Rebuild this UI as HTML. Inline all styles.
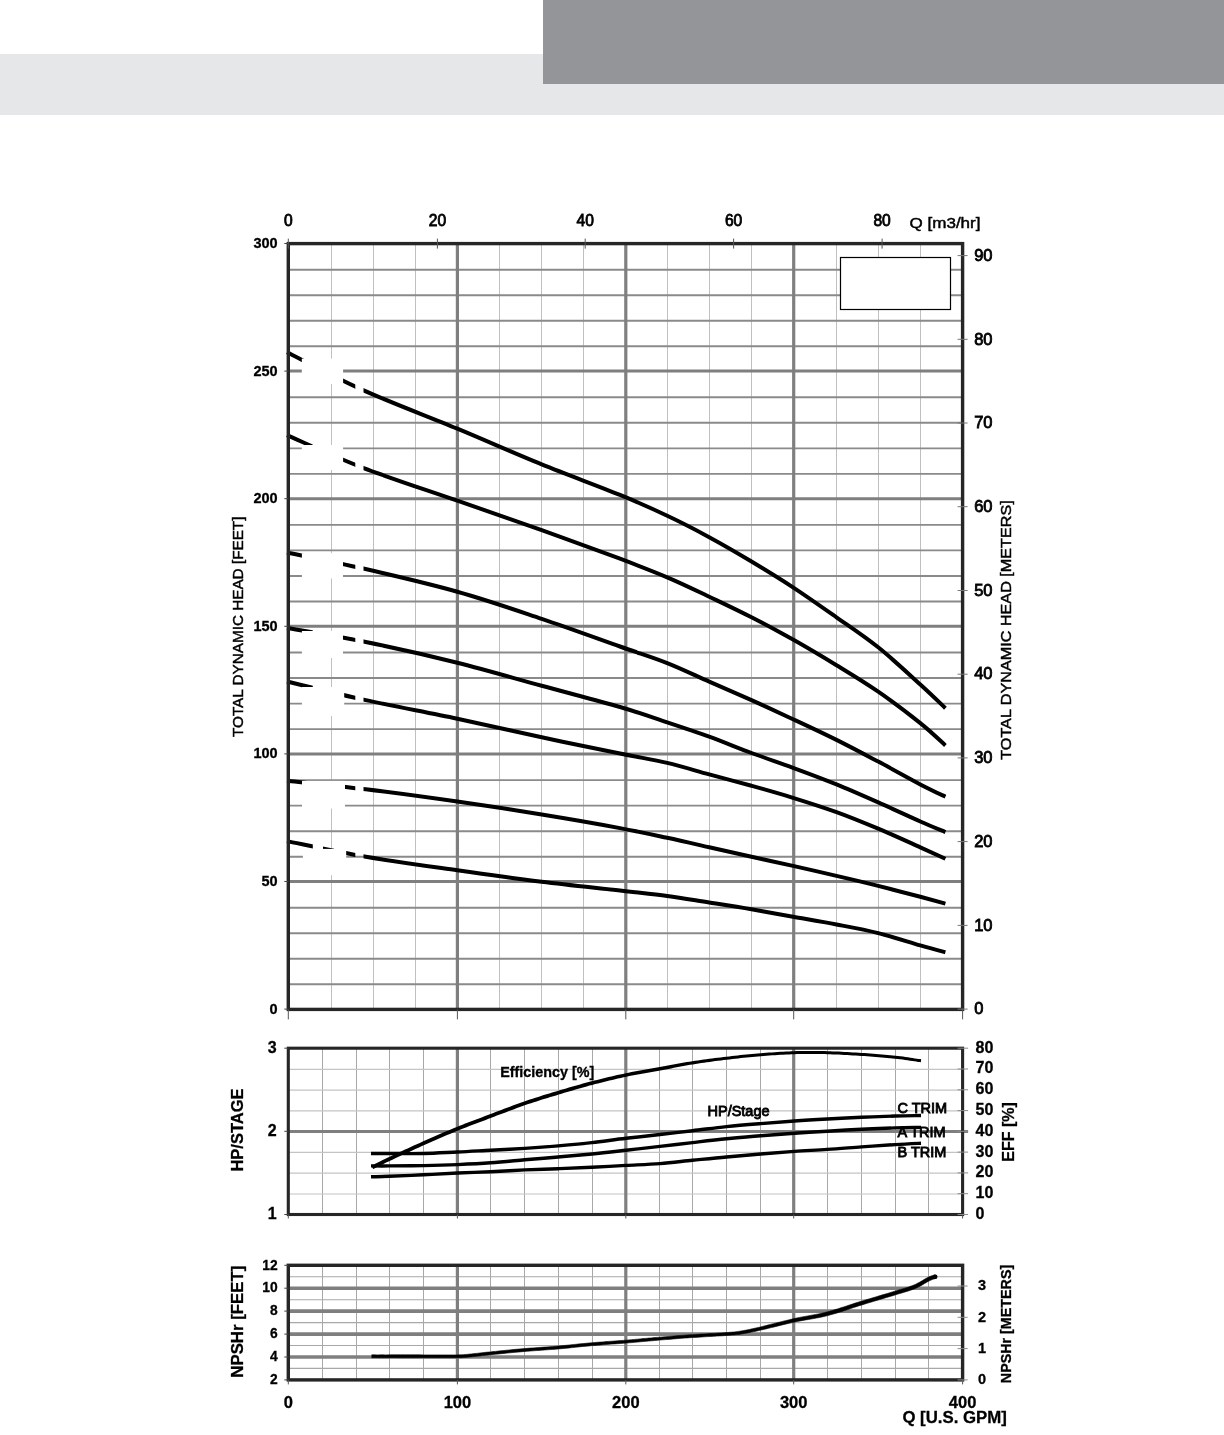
<!DOCTYPE html>
<html lang="en"><head><meta charset="utf-8"><title>Pump performance curves</title>
<style>
html,body{margin:0;padding:0;background:#fff;}
body{width:1224px;height:1435px;position:relative;overflow:hidden;font-family:"Liberation Sans",sans-serif;}
.band{position:absolute;left:0;top:54px;width:1224px;height:61px;background:#e6e7e8;}
.tab{position:absolute;left:543px;top:0;width:681px;height:84px;background:#939598;}
svg{position:absolute;left:0;top:0;will-change:transform;}
text{font-family:"Liberation Sans",sans-serif;fill:#000;}
.r14{font-size:14px;stroke:#000;stroke-width:.35px;}
.r155{font-size:15.5px;stroke:#000;stroke-width:.45px;}
.b14{stroke:#000;stroke-width:.3px;font-size:14px;font-weight:bold;}
.b15{stroke:#000;stroke-width:.3px;font-size:15.5px;font-weight:bold;}
.b16{stroke:#000;stroke-width:.3px;font-size:16px;font-weight:bold;}
.b135{stroke:#000;stroke-width:.3px;font-size:13.5px;font-weight:bold;}
.b143{stroke:#000;stroke-width:.3px;font-size:14.3px;font-weight:bold;}
.b165{stroke:#000;stroke-width:.3px;font-size:16.5px;font-weight:bold;}
.b168{stroke:#000;stroke-width:.3px;font-size:16.8px;font-weight:bold;}
.b138{stroke:#000;stroke-width:.3px;font-size:13.8px;font-weight:bold;}
.b145{stroke:#000;stroke-width:.3px;font-size:14.5px;font-weight:bold;}
.r144{font-size:14.5px;stroke:#000;stroke-width:.85px;}
.r145{font-size:14.5px;stroke:#000;stroke-width:.45px;}
.r16{font-size:15.6px;stroke:#000;stroke-width:.8px;}
.r165{font-size:16.5px;stroke:#000;stroke-width:.85px;}
</style></head><body>
<div class="band"></div><div class="tab"></div>
<svg width="1224" height="1435" viewBox="0 0 1224 1435">
<defs>
<clipPath id="cs"><rect x="280" y="240" width="32.8" height="780"/><rect x="323" y="240" width="11" height="780"/><rect x="343" y="240" width="12.3" height="780"/><rect x="363.5" y="240" width="600" height="780"/></clipPath>
</defs>
<g id="main">
<line x1="331.5" x2="331.5" y1="243.6" y2="1009.4" stroke="#c0c0c0" stroke-width="1"/>
<line x1="373.5" x2="373.5" y1="243.6" y2="1009.4" stroke="#c0c0c0" stroke-width="1"/>
<line x1="415.5" x2="415.5" y1="243.6" y2="1009.4" stroke="#c0c0c0" stroke-width="1"/>
<line x1="499.5" x2="499.5" y1="243.6" y2="1009.4" stroke="#c0c0c0" stroke-width="1"/>
<line x1="541.5" x2="541.5" y1="243.6" y2="1009.4" stroke="#c0c0c0" stroke-width="1"/>
<line x1="583.5" x2="583.5" y1="243.6" y2="1009.4" stroke="#c0c0c0" stroke-width="1"/>
<line x1="667.5" x2="667.5" y1="243.6" y2="1009.4" stroke="#c0c0c0" stroke-width="1"/>
<line x1="709.5" x2="709.5" y1="243.6" y2="1009.4" stroke="#c0c0c0" stroke-width="1"/>
<line x1="751.5" x2="751.5" y1="243.6" y2="1009.4" stroke="#c0c0c0" stroke-width="1"/>
<line x1="836.5" x2="836.5" y1="243.6" y2="1009.4" stroke="#c0c0c0" stroke-width="1"/>
<line x1="878.5" x2="878.5" y1="243.6" y2="1009.4" stroke="#c0c0c0" stroke-width="1"/>
<line x1="920.5" x2="920.5" y1="243.6" y2="1009.4" stroke="#c0c0c0" stroke-width="1"/>
<line x1="288.3" x2="962.6" y1="984.3" y2="984.3" stroke="#8a8a8a" stroke-width="1.9"/>
<line x1="288.3" x2="962.6" y1="958.8" y2="958.8" stroke="#8a8a8a" stroke-width="1.9"/>
<line x1="288.3" x2="962.6" y1="933.2" y2="933.2" stroke="#8a8a8a" stroke-width="1.9"/>
<line x1="288.3" x2="962.6" y1="907.7" y2="907.7" stroke="#8a8a8a" stroke-width="1.9"/>
<line x1="288.3" x2="962.6" y1="856.7" y2="856.7" stroke="#8a8a8a" stroke-width="1.9"/>
<line x1="288.3" x2="962.6" y1="831.2" y2="831.2" stroke="#8a8a8a" stroke-width="1.9"/>
<line x1="288.3" x2="962.6" y1="805.6" y2="805.6" stroke="#8a8a8a" stroke-width="1.9"/>
<line x1="288.3" x2="962.6" y1="780.1" y2="780.1" stroke="#8a8a8a" stroke-width="1.9"/>
<line x1="288.3" x2="962.6" y1="729.1" y2="729.1" stroke="#8a8a8a" stroke-width="1.9"/>
<line x1="288.3" x2="962.6" y1="703.6" y2="703.6" stroke="#8a8a8a" stroke-width="1.9"/>
<line x1="288.3" x2="962.6" y1="678.0" y2="678.0" stroke="#8a8a8a" stroke-width="1.9"/>
<line x1="288.3" x2="962.6" y1="652.5" y2="652.5" stroke="#8a8a8a" stroke-width="1.9"/>
<line x1="288.3" x2="962.6" y1="601.5" y2="601.5" stroke="#8a8a8a" stroke-width="1.9"/>
<line x1="288.3" x2="962.6" y1="576.0" y2="576.0" stroke="#8a8a8a" stroke-width="1.9"/>
<line x1="288.3" x2="962.6" y1="550.4" y2="550.4" stroke="#8a8a8a" stroke-width="1.9"/>
<line x1="288.3" x2="962.6" y1="524.9" y2="524.9" stroke="#8a8a8a" stroke-width="1.9"/>
<line x1="288.3" x2="962.6" y1="473.9" y2="473.9" stroke="#8a8a8a" stroke-width="1.9"/>
<line x1="288.3" x2="962.6" y1="448.4" y2="448.4" stroke="#8a8a8a" stroke-width="1.9"/>
<line x1="288.3" x2="962.6" y1="422.8" y2="422.8" stroke="#8a8a8a" stroke-width="1.9"/>
<line x1="288.3" x2="962.6" y1="397.3" y2="397.3" stroke="#8a8a8a" stroke-width="1.9"/>
<line x1="288.3" x2="962.6" y1="346.3" y2="346.3" stroke="#8a8a8a" stroke-width="1.9"/>
<line x1="288.3" x2="962.6" y1="320.8" y2="320.8" stroke="#8a8a8a" stroke-width="1.9"/>
<line x1="288.3" x2="962.6" y1="295.2" y2="295.2" stroke="#8a8a8a" stroke-width="1.9"/>
<line x1="288.3" x2="962.6" y1="269.7" y2="269.7" stroke="#8a8a8a" stroke-width="1.9"/>
<line x1="288.3" x2="962.6" y1="881.5" y2="881.5" stroke="#7f7f7f" stroke-width="3"/>
<line x1="288.3" x2="962.6" y1="753.9" y2="753.9" stroke="#7f7f7f" stroke-width="3"/>
<line x1="288.3" x2="962.6" y1="626.3" y2="626.3" stroke="#7f7f7f" stroke-width="3"/>
<line x1="288.3" x2="962.6" y1="498.7" y2="498.7" stroke="#7f7f7f" stroke-width="3"/>
<line x1="288.3" x2="962.6" y1="371.1" y2="371.1" stroke="#7f7f7f" stroke-width="3"/>
<line x1="457.4" x2="457.4" y1="243.6" y2="1009.4" stroke="#7f7f7f" stroke-width="3.2"/>
<line x1="625.8" x2="625.8" y1="243.6" y2="1009.4" stroke="#7f7f7f" stroke-width="3.2"/>
<line x1="793.7" x2="793.7" y1="243.6" y2="1009.4" stroke="#7f7f7f" stroke-width="3.2"/>
<path d="M287.0 352.3 C299.7 358.6 334.6 377.4 363.0 390.1 C391.4 402.8 427.5 416.3 457.3 428.7 C487.1 441.1 514.6 453.4 541.7 464.4 C568.8 475.4 599.1 486.3 620.0 494.9 C640.9 503.5 652.3 508.7 667.2 515.8 C682.1 522.8 695.2 529.6 709.2 537.2 C723.2 544.8 737.5 553.1 751.5 561.5 C765.5 569.9 778.8 578.0 793.0 587.3 C807.2 596.6 822.3 607.3 836.5 617.3 C850.7 627.3 864.2 636.1 878.2 647.3 C892.2 658.5 909.1 674.4 920.3 684.5 C931.5 694.6 941.2 704.2 945.4 708.2" fill="none" stroke="#000" stroke-width="4" stroke-linecap="butt" clip-path="url(#cs)"/>
<path d="M287.0 435.2 C299.7 440.6 334.6 456.9 363.0 467.8 C391.4 478.7 427.5 490.3 457.3 500.7 C487.1 511.1 514.6 520.5 541.7 530.2 C568.8 539.9 599.1 550.9 620.0 558.7 C640.9 566.6 652.3 571.0 667.2 577.3 C682.1 583.6 695.2 590.0 709.2 596.7 C723.2 603.4 737.5 610.1 751.5 617.3 C765.5 624.4 778.8 631.6 793.0 639.6 C807.2 647.6 822.3 656.6 836.5 665.3 C850.7 674.0 864.2 682.1 878.2 691.7 C892.2 701.3 909.1 714.2 920.3 723.1 C931.5 732.0 941.2 741.7 945.4 745.4" fill="none" stroke="#000" stroke-width="4" stroke-linecap="butt" clip-path="url(#cs)"/>
<path d="M287.0 552.5 C299.9 555.2 336.0 562.3 364.4 568.8 C392.8 575.3 427.8 583.4 457.3 591.7 C486.9 600.0 514.6 609.7 541.7 618.8 C568.8 627.9 599.1 639.1 620.0 646.5 C640.9 653.9 652.3 657.2 667.2 663.1 C682.1 669.0 695.2 675.5 709.2 681.7 C723.2 687.9 737.5 694.0 751.5 700.2 C765.5 706.5 778.8 712.6 793.0 719.2 C807.2 725.8 822.3 732.8 836.5 739.9 C850.7 747.0 864.2 754.2 878.2 761.6 C892.2 769.0 909.1 778.5 920.3 784.4 C931.5 790.2 941.2 794.7 945.4 796.7" fill="none" stroke="#000" stroke-width="4" stroke-linecap="butt" clip-path="url(#cs)"/>
<path d="M287.0 628.0 C300.1 630.3 337.4 636.2 365.8 642.0 C394.2 647.8 428.0 655.4 457.3 662.7 C486.6 670.0 514.6 678.4 541.7 685.8 C568.8 693.2 599.1 700.9 620.0 707.0 C640.9 713.1 652.3 717.4 667.2 722.3 C682.1 727.2 695.2 731.5 709.2 736.6 C723.2 741.7 737.5 747.8 751.5 753.0 C765.5 758.2 778.8 762.6 793.0 767.8 C807.2 773.0 822.3 778.6 836.5 784.4 C850.7 790.2 864.2 796.2 878.2 802.4 C892.2 808.6 909.1 816.5 920.3 821.5 C931.5 826.5 941.2 830.3 945.4 832.1" fill="none" stroke="#000" stroke-width="4" stroke-linecap="butt" clip-path="url(#cs)"/>
<path d="M287.0 681.5 C300.1 684.6 337.4 693.9 365.8 700.1 C394.2 706.3 428.0 712.5 457.3 718.7 C486.6 724.9 514.6 731.5 541.7 737.3 C568.8 743.1 599.1 749.2 620.0 753.5 C640.9 757.8 652.3 759.4 667.2 762.9 C682.1 766.4 695.2 770.6 709.2 774.4 C723.2 778.2 737.5 781.9 751.5 785.8 C765.5 789.7 778.8 793.4 793.0 797.8 C807.2 802.2 822.3 807.0 836.5 812.1 C850.7 817.2 864.2 822.8 878.2 828.7 C892.2 834.6 909.1 842.3 920.3 847.3 C931.5 852.3 941.2 856.8 945.4 858.7" fill="none" stroke="#000" stroke-width="4" stroke-linecap="butt" clip-path="url(#cs)"/>
<path d="M287.0 780.7 C300.1 782.1 337.4 785.8 365.8 789.3 C394.2 792.8 428.0 797.4 457.3 801.6 C486.6 805.8 514.6 810.1 541.7 814.5 C568.8 818.9 599.1 824.2 620.0 828.1 C640.9 832.0 652.3 834.6 667.2 837.8 C682.1 841.0 695.2 844.1 709.2 847.3 C723.2 850.4 737.5 853.6 751.5 856.7 C765.5 859.8 778.8 862.7 793.0 865.9 C807.2 869.1 822.3 872.6 836.5 875.9 C850.7 879.2 864.2 882.4 878.2 885.9 C892.2 889.4 909.1 893.8 920.3 896.8 C931.5 899.8 941.2 902.5 945.4 903.6" fill="none" stroke="#000" stroke-width="4" stroke-linecap="butt" clip-path="url(#cs)"/>
<path d="M287.0 841.1 C300.1 843.7 337.4 851.9 365.8 856.8 C394.2 861.6 428.0 866.1 457.3 870.2 C486.6 874.4 514.6 878.3 541.7 881.7 C568.8 885.1 599.1 888.1 620.0 890.5 C640.9 892.9 652.3 893.9 667.2 895.9 C682.1 897.9 695.2 900.3 709.2 902.5 C723.2 904.7 737.5 906.9 751.5 909.3 C765.5 911.7 778.8 914.3 793.0 916.8 C807.2 919.3 822.3 921.8 836.5 924.5 C850.7 927.2 864.2 929.6 878.2 933.1 C892.2 936.6 909.1 942.2 920.3 945.4 C931.5 948.6 941.2 951.1 945.4 952.2" fill="none" stroke="#000" stroke-width="4" stroke-linecap="butt" clip-path="url(#cs)"/>
<rect x="301.8" y="358.6" width="41.3" height="25.4" fill="#fff"/>
<rect x="301.8" y="445.0" width="41.3" height="25.0" fill="#fff"/>
<rect x="301.9" y="553.2" width="41.1" height="25.3" fill="#fff"/>
<rect x="301.9" y="631.0" width="41.1" height="27.0" fill="#fff"/>
<rect x="301.9" y="687.0" width="42.3" height="29.0" fill="#fff"/>
<rect x="302.0" y="780.9" width="43.0" height="27.6" fill="#fff"/>
<rect x="302.9" y="848.9" width="43.3" height="26.3" fill="#fff"/>
<rect x="840.5" y="257.5" width="110" height="52" fill="#fff" stroke="#000" stroke-width="1.2"/>
<rect x="288.3" y="243.6" width="674.3" height="765.8" fill="none" stroke="#262626" stroke-width="3.4"/>
<line x1="288.3" x2="288.3" y1="1009.4" y2="1019.4" stroke="#555" stroke-width="1"/>
<line x1="457.4" x2="457.4" y1="1009.4" y2="1019.4" stroke="#555" stroke-width="1"/>
<line x1="625.8" x2="625.8" y1="1009.4" y2="1019.4" stroke="#555" stroke-width="1"/>
<line x1="793.7" x2="793.7" y1="1009.4" y2="1019.4" stroke="#555" stroke-width="1"/>
<line x1="962.6" x2="962.6" y1="1009.4" y2="1019.4" stroke="#555" stroke-width="1"/>
<line x1="288.3" x2="288.3" y1="238.6" y2="248.6" stroke="#555" stroke-width="1"/>
<text x="288.3" y="226" class="r16" text-anchor="middle">0</text>
<line x1="437.4" x2="437.4" y1="238.6" y2="248.6" stroke="#555" stroke-width="1"/>
<text x="437.4" y="226" class="r16" text-anchor="middle">20</text>
<line x1="585.2" x2="585.2" y1="238.6" y2="248.6" stroke="#555" stroke-width="1"/>
<text x="585.2" y="226" class="r16" text-anchor="middle">40</text>
<line x1="733.6" x2="733.6" y1="238.6" y2="248.6" stroke="#555" stroke-width="1"/>
<text x="733.6" y="226" class="r16" text-anchor="middle">60</text>
<line x1="882.1" x2="882.1" y1="238.6" y2="248.6" stroke="#555" stroke-width="1"/>
<text x="882.1" y="226" class="r16" text-anchor="middle">80</text>
<text x="909.5" y="227.5" class="r145" textLength="71" lengthAdjust="spacingAndGlyphs">Q [m3/hr]</text>
<text x="277.7" y="1013.5" class="b145" text-anchor="end">0</text>
<line x1="284.3" x2="288.3" y1="1009.1" y2="1009.1" stroke="#444" stroke-width="1"/>
<text x="277.7" y="885.9" class="b145" text-anchor="end">50</text>
<line x1="284.3" x2="288.3" y1="881.5" y2="881.5" stroke="#444" stroke-width="1"/>
<text x="277.7" y="758.3" class="b145" text-anchor="end">100</text>
<line x1="284.3" x2="288.3" y1="753.9" y2="753.9" stroke="#444" stroke-width="1"/>
<text x="277.7" y="630.7" class="b145" text-anchor="end">150</text>
<line x1="284.3" x2="288.3" y1="626.3" y2="626.3" stroke="#444" stroke-width="1"/>
<text x="277.7" y="503.1" class="b145" text-anchor="end">200</text>
<line x1="284.3" x2="288.3" y1="498.7" y2="498.7" stroke="#444" stroke-width="1"/>
<text x="277.7" y="375.5" class="b145" text-anchor="end">250</text>
<line x1="284.3" x2="288.3" y1="371.1" y2="371.1" stroke="#444" stroke-width="1"/>
<text x="277.7" y="247.9" class="b145" text-anchor="end">300</text>
<line x1="284.3" x2="288.3" y1="243.5" y2="243.5" stroke="#444" stroke-width="1"/>
<line x1="957.6" x2="967.6" y1="1009.1" y2="1009.1" stroke="#777" stroke-width="1"/>
<text x="974.2" y="1014.3" class="r165">0</text>
<line x1="957.6" x2="967.6" y1="925.4" y2="925.4" stroke="#777" stroke-width="1"/>
<text x="974.2" y="930.6" class="r165">10</text>
<line x1="957.6" x2="967.6" y1="841.6" y2="841.6" stroke="#777" stroke-width="1"/>
<text x="974.2" y="846.8" class="r165">20</text>
<line x1="957.6" x2="967.6" y1="757.9" y2="757.9" stroke="#777" stroke-width="1"/>
<text x="974.2" y="763.1" class="r165">30</text>
<line x1="957.6" x2="967.6" y1="674.2" y2="674.2" stroke="#777" stroke-width="1"/>
<text x="974.2" y="679.4" class="r165">40</text>
<line x1="957.6" x2="967.6" y1="590.5" y2="590.5" stroke="#777" stroke-width="1"/>
<text x="974.2" y="595.7" class="r165">50</text>
<line x1="957.6" x2="967.6" y1="506.7" y2="506.7" stroke="#777" stroke-width="1"/>
<text x="974.2" y="511.9" class="r165">60</text>
<line x1="957.6" x2="967.6" y1="423.0" y2="423.0" stroke="#777" stroke-width="1"/>
<text x="974.2" y="428.2" class="r165">70</text>
<line x1="957.6" x2="967.6" y1="339.3" y2="339.3" stroke="#777" stroke-width="1"/>
<text x="974.2" y="344.5" class="r165">80</text>
<line x1="957.6" x2="967.6" y1="255.6" y2="255.6" stroke="#777" stroke-width="1"/>
<text x="974.2" y="260.8" class="r165">90</text>
<text transform="translate(243.3,626.8) rotate(-90)" class="r145" text-anchor="middle" textLength="220.5" lengthAdjust="spacingAndGlyphs">TOTAL DYNAMIC HEAD [FEET]</text>
<text transform="translate(1010.8,630) rotate(-90)" class="r155" text-anchor="middle" textLength="259.5" lengthAdjust="spacingAndGlyphs">TOTAL DYNAMIC HEAD [METERS]</text>
</g>
<g id="c2">
<line x1="322.5" x2="322.5" y1="1048.2" y2="1214.5" stroke="#a8a8a8" stroke-width="1"/>
<line x1="356.5" x2="356.5" y1="1048.2" y2="1214.5" stroke="#a8a8a8" stroke-width="1"/>
<line x1="389.5" x2="389.5" y1="1048.2" y2="1214.5" stroke="#a8a8a8" stroke-width="1"/>
<line x1="423.5" x2="423.5" y1="1048.2" y2="1214.5" stroke="#a8a8a8" stroke-width="1"/>
<line x1="490.5" x2="490.5" y1="1048.2" y2="1214.5" stroke="#a8a8a8" stroke-width="1"/>
<line x1="524.5" x2="524.5" y1="1048.2" y2="1214.5" stroke="#a8a8a8" stroke-width="1"/>
<line x1="558.5" x2="558.5" y1="1048.2" y2="1214.5" stroke="#a8a8a8" stroke-width="1"/>
<line x1="592.5" x2="592.5" y1="1048.2" y2="1214.5" stroke="#a8a8a8" stroke-width="1"/>
<line x1="659.5" x2="659.5" y1="1048.2" y2="1214.5" stroke="#a8a8a8" stroke-width="1"/>
<line x1="692.5" x2="692.5" y1="1048.2" y2="1214.5" stroke="#a8a8a8" stroke-width="1"/>
<line x1="726.5" x2="726.5" y1="1048.2" y2="1214.5" stroke="#a8a8a8" stroke-width="1"/>
<line x1="760.5" x2="760.5" y1="1048.2" y2="1214.5" stroke="#a8a8a8" stroke-width="1"/>
<line x1="827.5" x2="827.5" y1="1048.2" y2="1214.5" stroke="#a8a8a8" stroke-width="1"/>
<line x1="861.5" x2="861.5" y1="1048.2" y2="1214.5" stroke="#a8a8a8" stroke-width="1"/>
<line x1="895.5" x2="895.5" y1="1048.2" y2="1214.5" stroke="#a8a8a8" stroke-width="1"/>
<line x1="928.5" x2="928.5" y1="1048.2" y2="1214.5" stroke="#a8a8a8" stroke-width="1"/>
<line x1="288.3" x2="962.6" y1="1069.3" y2="1069.3" stroke="#c4c4c4" stroke-width="1.2"/>
<line x1="288.3" x2="962.6" y1="1090.1" y2="1090.1" stroke="#c4c4c4" stroke-width="1.2"/>
<line x1="288.3" x2="962.6" y1="1110.9" y2="1110.9" stroke="#c4c4c4" stroke-width="1.2"/>
<line x1="288.3" x2="962.6" y1="1152.4" y2="1152.4" stroke="#c4c4c4" stroke-width="1.2"/>
<line x1="288.3" x2="962.6" y1="1173.2" y2="1173.2" stroke="#c4c4c4" stroke-width="1.2"/>
<line x1="288.3" x2="962.6" y1="1194.0" y2="1194.0" stroke="#c4c4c4" stroke-width="1.2"/>
<line x1="288.3" x2="968.1" y1="1131.5" y2="1131.5" stroke="#7f7f7f" stroke-width="3"/>
<line x1="457.4" x2="457.4" y1="1048.2" y2="1214.5" stroke="#7f7f7f" stroke-width="3.2"/>
<line x1="625.8" x2="625.8" y1="1048.2" y2="1214.5" stroke="#7f7f7f" stroke-width="3.2"/>
<line x1="793.7" x2="793.7" y1="1048.2" y2="1214.5" stroke="#7f7f7f" stroke-width="3.2"/>
<path d="M373.1 1169.1 L373.9 1168.7 L374.8 1168.3 L375.8 1167.8 L376.9 1167.2 L378.2 1166.6 L379.5 1165.9 L381.0 1165.1 L382.6 1164.4 L384.3 1163.5 L386.1 1162.6 L388.0 1161.7 L390.1 1160.7 L392.4 1159.7 L394.8 1158.5 L397.4 1157.3 L400.2 1156.0 L403.1 1154.6 L406.1 1153.3 L409.2 1151.9 L412.3 1150.5 L415.3 1149.0 L418.4 1147.7 L421.4 1146.3 L424.3 1145.0 L427.1 1143.8 L430.0 1142.5 L432.8 1141.3 L435.7 1140.0 L438.5 1138.8 L441.4 1137.6 L444.2 1136.3 L447.1 1135.1 L449.9 1133.9 L452.7 1132.8 L455.5 1131.6 L458.3 1130.5 L461.1 1129.3 L463.8 1128.2 L466.6 1127.2 L469.3 1126.1 L472.0 1125.0 L474.8 1124.0 L477.5 1123.0 L480.2 1121.9 L483.0 1120.9 L485.7 1119.9 L488.5 1118.8 L491.3 1117.8 L494.1 1116.7 L496.9 1115.6 L499.8 1114.6 L502.6 1113.5 L505.5 1112.4 L508.3 1111.3 L511.2 1110.2 L514.1 1109.2 L516.9 1108.1 L519.8 1107.1 L522.6 1106.1 L525.4 1105.1 L528.2 1104.1 L531.0 1103.2 L533.8 1102.3 L536.6 1101.4 L539.3 1100.5 L542.1 1099.6 L544.9 1098.8 L547.6 1097.9 L550.4 1097.0 L553.2 1096.2 L556.0 1095.4 L558.7 1094.5 L561.5 1093.7 L564.3 1092.8 L567.1 1092.0 L569.9 1091.2 L572.7 1090.4 L575.5 1089.5 L578.3 1088.7 L581.1 1087.9 L583.9 1087.2 L586.7 1086.4 L589.5 1085.6 L592.4 1084.9 L595.2 1084.1 L598.0 1083.4 L600.9 1082.7 L603.7 1082.0 L606.6 1081.3 L609.4 1080.6 L612.3 1079.9 L615.1 1079.2 L617.9 1078.6 L620.8 1077.9 L623.6 1077.3 L626.5 1076.7 L629.3 1076.1 L632.1 1075.6 L634.9 1075.0 L637.8 1074.5 L640.6 1074.0 L643.4 1073.5 L646.3 1073.0 L649.1 1072.5 L651.9 1072.0 L654.7 1071.5 L657.5 1071.0 L660.3 1070.5 L663.1 1069.9 L665.8 1069.4 L668.5 1068.9 L671.2 1068.4 L673.9 1067.8 L676.6 1067.3 L679.3 1066.8 L682.0 1066.3 L684.7 1065.8 L687.4 1065.3 L690.1 1064.8 L692.9 1064.4 L695.6 1063.9 L698.4 1063.5 L701.2 1063.1 L704.0 1062.7 L706.8 1062.3 L709.7 1061.9 L712.5 1061.5 L715.3 1061.1 L718.2 1060.8 L721.0 1060.4 L723.8 1060.1 L726.7 1059.7 L729.5 1059.4 L732.4 1059.0 L735.2 1058.7 L738.1 1058.4 L740.9 1058.1 L743.8 1057.8 L746.6 1057.5 L749.5 1057.2 L752.3 1056.9 L755.2 1056.7 L758.0 1056.4 L760.8 1056.2 L763.6 1056.0 L766.5 1055.8 L769.3 1055.5 L772.1 1055.3 L774.9 1055.2 L777.7 1055.0 L780.5 1054.8 L783.3 1054.7 L786.1 1054.5 L788.9 1054.4 L791.7 1054.3 L794.4 1054.2 L797.2 1054.1 L799.9 1054.1 L802.7 1054.0 L805.4 1054.0 L808.1 1054.0 L810.8 1054.0 L813.5 1054.0 L816.3 1054.0 L819.0 1054.0 L821.7 1054.1 L824.5 1054.1 L827.3 1054.2 L830.1 1054.3 L832.9 1054.4 L835.7 1054.5 L838.6 1054.6 L841.4 1054.7 L844.3 1054.9 L847.1 1055.0 L850.0 1055.2 L852.9 1055.4 L855.7 1055.5 L858.6 1055.7 L861.4 1055.9 L864.2 1056.1 L867.1 1056.3 L870.0 1056.5 L872.9 1056.7 L875.9 1056.9 L878.8 1057.2 L881.6 1057.4 L884.4 1057.7 L887.2 1057.9 L889.9 1058.2 L892.5 1058.4 L895.0 1058.7 L897.5 1059.0 L900.1 1059.3 L902.6 1059.6 L905.1 1060.0 L907.6 1060.3 L910.0 1060.7 L912.3 1061.0 L914.4 1061.3 L916.3 1061.6 L918.1 1061.9 L919.6 1062.1 L920.8 1062.3 L921.2 1059.3 L920.0 1059.1 L918.5 1058.9 L916.8 1058.7 L914.8 1058.4 L912.7 1058.0 L910.4 1057.7 L908.0 1057.3 L905.5 1057.0 L903.0 1056.6 L900.4 1056.3 L897.9 1056.0 L895.4 1055.7 L892.8 1055.4 L890.2 1055.2 L887.5 1054.9 L884.7 1054.7 L881.9 1054.4 L879.0 1054.2 L876.1 1054.0 L873.2 1053.7 L870.3 1053.5 L867.3 1053.3 L864.5 1053.1 L861.6 1052.9 L858.8 1052.7 L855.9 1052.5 L853.0 1052.4 L850.2 1052.2 L847.3 1052.0 L844.4 1051.9 L841.6 1051.7 L838.7 1051.6 L835.8 1051.5 L833.0 1051.4 L830.2 1051.3 L827.3 1051.2 L824.5 1051.1 L821.8 1051.1 L819.0 1051.0 L816.3 1051.0 L813.5 1051.0 L810.8 1051.0 L808.1 1051.0 L805.4 1051.0 L802.6 1051.0 L799.9 1051.1 L797.1 1051.1 L794.4 1051.2 L791.6 1051.3 L788.8 1051.4 L786.0 1051.5 L783.2 1051.7 L780.4 1051.8 L777.5 1052.0 L774.7 1052.2 L771.9 1052.4 L769.1 1052.6 L766.2 1052.8 L763.4 1053.0 L760.6 1053.2 L757.7 1053.4 L754.9 1053.7 L752.0 1054.0 L749.2 1054.2 L746.3 1054.5 L743.5 1054.8 L740.6 1055.1 L737.7 1055.4 L734.9 1055.7 L732.0 1056.0 L729.2 1056.4 L726.3 1056.7 L723.5 1057.0 L720.6 1057.4 L717.8 1057.7 L714.9 1058.1 L712.1 1058.4 L709.2 1058.8 L706.4 1059.2 L703.6 1059.6 L700.7 1060.0 L697.9 1060.4 L695.1 1060.8 L692.3 1061.2 L689.6 1061.7 L686.8 1062.1 L684.1 1062.6 L681.4 1063.1 L678.7 1063.6 L676.0 1064.1 L673.3 1064.6 L670.6 1065.1 L667.9 1065.6 L665.2 1066.1 L662.5 1066.6 L659.7 1067.1 L656.9 1067.6 L654.1 1068.1 L651.3 1068.6 L648.5 1069.1 L645.7 1069.6 L642.9 1070.1 L640.0 1070.6 L637.2 1071.1 L634.3 1071.6 L631.5 1072.1 L628.6 1072.7 L625.7 1073.3 L622.9 1073.9 L620.0 1074.5 L617.2 1075.1 L614.3 1075.8 L611.4 1076.4 L608.6 1077.1 L605.7 1077.8 L602.8 1078.5 L600.0 1079.2 L597.1 1079.9 L594.3 1080.6 L591.4 1081.3 L588.6 1082.1 L585.8 1082.8 L582.9 1083.6 L580.1 1084.4 L577.3 1085.2 L574.5 1085.9 L571.7 1086.8 L568.9 1087.6 L566.1 1088.4 L563.3 1089.2 L560.5 1090.0 L557.7 1090.9 L554.9 1091.7 L552.1 1092.6 L549.3 1093.4 L546.5 1094.3 L543.7 1095.1 L541.0 1096.0 L538.2 1096.9 L535.4 1097.8 L532.6 1098.7 L529.8 1099.6 L527.0 1100.5 L524.2 1101.5 L521.3 1102.5 L518.5 1103.5 L515.6 1104.5 L512.8 1105.6 L509.9 1106.7 L507.0 1107.7 L504.1 1108.8 L501.3 1109.9 L498.4 1111.0 L495.6 1112.1 L492.7 1113.2 L489.9 1114.2 L487.1 1115.3 L484.4 1116.3 L481.6 1117.4 L478.9 1118.4 L476.1 1119.4 L473.4 1120.5 L470.7 1121.5 L468.0 1122.6 L465.2 1123.6 L462.5 1124.7 L459.7 1125.8 L456.9 1126.9 L454.1 1128.1 L451.3 1129.3 L448.4 1130.4 L445.6 1131.6 L442.7 1132.8 L439.9 1134.1 L437.0 1135.3 L434.2 1136.5 L431.3 1137.8 L428.4 1139.0 L425.6 1140.3 L422.7 1141.6 L419.8 1142.9 L416.8 1144.2 L413.8 1145.6 L410.7 1147.0 L407.6 1148.4 L404.5 1149.8 L401.5 1151.2 L398.6 1152.5 L395.8 1153.8 L393.2 1155.1 L390.7 1156.2 L388.5 1157.3 L386.4 1158.3 L384.4 1159.2 L382.6 1160.1 L380.9 1160.9 L379.3 1161.7 L377.8 1162.5 L376.4 1163.2 L375.2 1163.8 L374.1 1164.4 L373.1 1164.9 L372.2 1165.3 L371.5 1165.7Z" fill="#000"/>
<path d="M371.0 1153.5 C374.1 1153.5 380.6 1153.5 389.3 1153.5 C398.1 1153.5 412.1 1153.8 423.5 1153.5 C434.9 1153.2 446.4 1152.5 457.6 1152.0 C468.8 1151.5 479.4 1150.8 490.6 1150.2 C501.8 1149.6 513.5 1149.1 524.8 1148.4 C536.1 1147.7 547.0 1146.9 558.2 1145.9 C569.4 1144.9 580.6 1143.9 591.9 1142.6 C603.2 1141.3 614.8 1139.6 626.1 1138.3 C637.5 1137.0 648.9 1135.8 660.0 1134.5 C671.1 1133.2 681.5 1132.0 692.6 1130.7 C703.7 1129.4 715.1 1127.8 726.5 1126.6 C737.9 1125.4 749.4 1124.5 760.7 1123.6 C772.0 1122.7 783.3 1121.8 794.4 1121.0 C805.5 1120.2 816.1 1119.6 827.3 1119.0 C838.5 1118.4 850.2 1117.8 861.5 1117.3 C872.8 1116.8 885.3 1116.3 895.2 1116.0 C905.1 1115.7 916.7 1115.6 921.0 1115.5" fill="none" stroke="#000" stroke-width="3.4"/>
<path d="M371.0 1165.9 C374.1 1165.9 380.6 1166.0 389.3 1165.9 C398.1 1165.9 412.1 1165.8 423.5 1165.6 C434.9 1165.4 446.4 1165.1 457.6 1164.6 C468.8 1164.1 479.4 1163.6 490.6 1162.8 C501.8 1162.0 513.5 1160.8 524.8 1159.8 C536.1 1158.8 547.0 1158.0 558.2 1157.0 C569.4 1156.0 580.6 1155.1 591.9 1154.0 C603.2 1152.9 614.8 1151.5 626.1 1150.2 C637.5 1148.9 648.9 1147.7 660.0 1146.4 C671.1 1145.1 681.5 1143.9 692.6 1142.6 C703.7 1141.3 715.1 1139.9 726.5 1138.8 C737.9 1137.7 749.4 1136.6 760.7 1135.7 C772.0 1134.8 783.3 1134.0 794.4 1133.2 C805.5 1132.5 816.1 1131.9 827.3 1131.2 C838.5 1130.5 850.2 1129.8 861.5 1129.2 C872.8 1128.7 885.3 1128.2 895.2 1127.9 C905.1 1127.6 916.7 1127.5 921.0 1127.4" fill="none" stroke="#000" stroke-width="3.4"/>
<path d="M371.0 1176.8 C374.1 1176.7 380.6 1176.6 389.3 1176.3 C398.1 1176.0 412.1 1175.3 423.5 1174.8 C434.9 1174.2 446.4 1173.5 457.6 1173.0 C468.8 1172.5 479.4 1172.2 490.6 1171.7 C501.8 1171.2 513.5 1170.4 524.8 1169.9 C536.1 1169.4 547.0 1169.2 558.2 1168.7 C569.4 1168.2 580.6 1167.8 591.9 1167.2 C603.2 1166.7 614.8 1166.0 626.1 1165.4 C637.5 1164.8 648.9 1164.4 660.0 1163.6 C671.1 1162.8 681.5 1161.4 692.6 1160.3 C703.7 1159.2 715.1 1158.0 726.5 1157.0 C737.9 1156.0 749.4 1154.9 760.7 1154.0 C772.0 1153.1 783.3 1152.2 794.4 1151.4 C805.5 1150.6 816.1 1150.2 827.3 1149.4 C838.5 1148.7 850.2 1147.7 861.5 1146.9 C872.8 1146.1 885.3 1145.2 895.2 1144.6 C905.1 1144.0 916.7 1143.5 921.0 1143.3" fill="none" stroke="#000" stroke-width="3.4"/>
<rect x="288.3" y="1048.2" width="674.3" height="166.3" fill="none" stroke="#262626" stroke-width="3.1"/>
<line x1="288.3" x2="288.3" y1="1214.5" y2="1218.5" stroke="#555" stroke-width="1"/>
<line x1="457.4" x2="457.4" y1="1214.5" y2="1218.5" stroke="#555" stroke-width="1"/>
<line x1="625.8" x2="625.8" y1="1214.5" y2="1218.5" stroke="#555" stroke-width="1"/>
<line x1="793.7" x2="793.7" y1="1214.5" y2="1218.5" stroke="#555" stroke-width="1"/>
<line x1="962.6" x2="962.6" y1="1214.5" y2="1218.5" stroke="#555" stroke-width="1"/>
<text x="276.6" y="1052.6" class="b16" text-anchor="end">3</text>
<line x1="284.3" x2="288.3" y1="1048.2" y2="1048.2" stroke="#444" stroke-width="1"/>
<text x="276.6" y="1135.8" class="b16" text-anchor="end">2</text>
<line x1="284.3" x2="288.3" y1="1131.3" y2="1131.3" stroke="#444" stroke-width="1"/>
<text x="276.6" y="1218.9" class="b16" text-anchor="end">1</text>
<line x1="284.3" x2="288.3" y1="1214.5" y2="1214.5" stroke="#444" stroke-width="1"/>
<line x1="957.6" x2="968.1" y1="1214.5" y2="1214.5" stroke="#8c8c8c" stroke-width="1"/>
<text x="975.5" y="1218.9" class="b16">0</text>
<line x1="957.6" x2="968.1" y1="1193.7" y2="1193.7" stroke="#8c8c8c" stroke-width="1"/>
<text x="975.5" y="1198.1" class="b16">10</text>
<line x1="957.6" x2="968.1" y1="1172.9" y2="1172.9" stroke="#8c8c8c" stroke-width="1"/>
<text x="975.5" y="1177.3" class="b16">20</text>
<line x1="957.6" x2="968.1" y1="1152.1" y2="1152.1" stroke="#8c8c8c" stroke-width="1"/>
<text x="975.5" y="1156.5" class="b16">30</text>
<line x1="957.6" x2="968.1" y1="1131.3" y2="1131.3" stroke="#8c8c8c" stroke-width="1"/>
<text x="975.5" y="1135.8" class="b16">40</text>
<line x1="957.6" x2="968.1" y1="1110.6" y2="1110.6" stroke="#8c8c8c" stroke-width="1"/>
<text x="975.5" y="1115.0" class="b16">50</text>
<line x1="957.6" x2="968.1" y1="1089.8" y2="1089.8" stroke="#8c8c8c" stroke-width="1"/>
<text x="975.5" y="1094.2" class="b16">60</text>
<line x1="957.6" x2="968.1" y1="1069.0" y2="1069.0" stroke="#8c8c8c" stroke-width="1"/>
<text x="975.5" y="1073.4" class="b16">70</text>
<line x1="957.6" x2="968.1" y1="1048.2" y2="1048.2" stroke="#8c8c8c" stroke-width="1"/>
<text x="975.5" y="1052.6" class="b16">80</text>
<text transform="translate(243.2,1130) rotate(-90)" class="b165" text-anchor="middle">HP/STAGE</text>
<text transform="translate(1014.3,1132) rotate(-90)" class="b16" text-anchor="middle">EFF [%]</text>
<text x="500.2" y="1076.7" class="b14" textLength="94" lengthAdjust="spacingAndGlyphs">Efficiency [%]</text>
<text x="707.5" y="1115.5" class="r144">HP/Stage</text>
<text x="897.5" y="1112.5" class="r144">C TRIM</text>
<text x="897.5" y="1136.7" class="r144">A TRIM</text>
<text x="897.5" y="1156.6" class="r144">B TRIM</text>
</g>
<g id="c3">
<line x1="322.5" x2="322.5" y1="1265.3" y2="1379.9" stroke="#a8a8a8" stroke-width="1"/>
<line x1="356.5" x2="356.5" y1="1265.3" y2="1379.9" stroke="#a8a8a8" stroke-width="1"/>
<line x1="389.5" x2="389.5" y1="1265.3" y2="1379.9" stroke="#a8a8a8" stroke-width="1"/>
<line x1="423.5" x2="423.5" y1="1265.3" y2="1379.9" stroke="#a8a8a8" stroke-width="1"/>
<line x1="490.5" x2="490.5" y1="1265.3" y2="1379.9" stroke="#a8a8a8" stroke-width="1"/>
<line x1="524.5" x2="524.5" y1="1265.3" y2="1379.9" stroke="#a8a8a8" stroke-width="1"/>
<line x1="558.5" x2="558.5" y1="1265.3" y2="1379.9" stroke="#a8a8a8" stroke-width="1"/>
<line x1="592.5" x2="592.5" y1="1265.3" y2="1379.9" stroke="#a8a8a8" stroke-width="1"/>
<line x1="659.5" x2="659.5" y1="1265.3" y2="1379.9" stroke="#a8a8a8" stroke-width="1"/>
<line x1="692.5" x2="692.5" y1="1265.3" y2="1379.9" stroke="#a8a8a8" stroke-width="1"/>
<line x1="726.5" x2="726.5" y1="1265.3" y2="1379.9" stroke="#a8a8a8" stroke-width="1"/>
<line x1="760.5" x2="760.5" y1="1265.3" y2="1379.9" stroke="#a8a8a8" stroke-width="1"/>
<line x1="827.5" x2="827.5" y1="1265.3" y2="1379.9" stroke="#a8a8a8" stroke-width="1"/>
<line x1="861.5" x2="861.5" y1="1265.3" y2="1379.9" stroke="#a8a8a8" stroke-width="1"/>
<line x1="895.5" x2="895.5" y1="1265.3" y2="1379.9" stroke="#a8a8a8" stroke-width="1"/>
<line x1="928.5" x2="928.5" y1="1265.3" y2="1379.9" stroke="#a8a8a8" stroke-width="1"/>
<line x1="288.3" x2="962.6" y1="1276.8" y2="1276.8" stroke="#a8a8a8" stroke-width="1.1"/>
<line x1="288.3" x2="962.6" y1="1299.7" y2="1299.7" stroke="#a8a8a8" stroke-width="1.1"/>
<line x1="288.3" x2="962.6" y1="1322.6" y2="1322.6" stroke="#a8a8a8" stroke-width="1.1"/>
<line x1="288.3" x2="962.6" y1="1345.5" y2="1345.5" stroke="#a8a8a8" stroke-width="1.1"/>
<line x1="288.3" x2="962.6" y1="1368.4" y2="1368.4" stroke="#a8a8a8" stroke-width="1.1"/>
<line x1="288.3" x2="962.6" y1="1288.2" y2="1288.2" stroke="#7f7f7f" stroke-width="3.6"/>
<line x1="288.3" x2="962.6" y1="1311.1" y2="1311.1" stroke="#7f7f7f" stroke-width="3.6"/>
<line x1="288.3" x2="962.6" y1="1334.1" y2="1334.1" stroke="#7f7f7f" stroke-width="3.6"/>
<line x1="288.3" x2="962.6" y1="1357.0" y2="1357.0" stroke="#7f7f7f" stroke-width="3.6"/>
<line x1="457.4" x2="457.4" y1="1265.3" y2="1379.9" stroke="#7f7f7f" stroke-width="3.2"/>
<line x1="625.8" x2="625.8" y1="1265.3" y2="1379.9" stroke="#7f7f7f" stroke-width="3.2"/>
<line x1="793.7" x2="793.7" y1="1265.3" y2="1379.9" stroke="#7f7f7f" stroke-width="3.2"/>
<path d="M371.8 1357.8 L374.4 1357.7 L377.6 1357.8 L381.5 1357.8 L385.9 1357.8 L390.6 1357.7 L395.5 1357.7 L400.6 1357.8 L405.7 1357.8 L410.6 1357.8 L415.3 1357.8 L419.6 1357.8 L423.5 1357.7 L427.0 1357.8 L430.5 1357.8 L433.8 1357.8 L437.0 1357.8 L440.1 1357.8 L443.1 1357.8 L445.9 1357.8 L448.6 1357.8 L451.1 1357.8 L453.4 1357.8 L455.6 1357.8 L457.6 1357.7 L459.3 1357.7 L460.7 1357.7 L461.9 1357.7 L462.8 1357.6 L463.5 1357.6 L464.2 1357.5 L464.8 1357.5 L465.4 1357.4 L466.1 1357.3 L466.9 1357.3 L467.9 1357.2 L469.1 1357.0 L470.5 1356.9 L472.0 1356.8 L473.5 1356.6 L475.1 1356.4 L476.8 1356.2 L478.5 1356.1 L480.4 1355.9 L482.2 1355.6 L484.2 1355.4 L486.3 1355.2 L488.5 1355.0 L490.7 1354.7 L493.2 1354.5 L495.7 1354.2 L498.4 1354.0 L501.2 1353.7 L504.1 1353.4 L507.1 1353.1 L510.1 1352.8 L513.1 1352.5 L516.1 1352.2 L519.1 1352.0 L522.1 1351.7 L524.9 1351.4 L527.7 1351.2 L530.5 1351.0 L533.3 1350.8 L536.1 1350.6 L538.9 1350.4 L541.6 1350.2 L544.4 1350.0 L547.2 1349.8 L550.0 1349.6 L552.7 1349.4 L555.5 1349.2 L558.3 1348.9 L561.1 1348.7 L563.9 1348.4 L566.7 1348.2 L569.5 1347.9 L572.3 1347.6 L575.1 1347.3 L578.0 1347.0 L580.8 1346.7 L583.6 1346.4 L586.4 1346.2 L589.2 1345.9 L592.0 1345.6 L594.9 1345.4 L597.7 1345.2 L600.5 1345.0 L603.4 1344.7 L606.2 1344.5 L609.1 1344.3 L611.9 1344.1 L614.8 1343.9 L617.7 1343.7 L620.5 1343.5 L623.4 1343.3 L626.2 1343.0 L629.1 1342.8 L631.9 1342.6 L634.8 1342.3 L637.6 1342.1 L640.4 1341.8 L643.3 1341.5 L646.1 1341.3 L648.9 1341.0 L651.8 1340.8 L654.6 1340.5 L657.3 1340.3 L660.1 1340.0 L662.9 1339.8 L665.6 1339.6 L668.3 1339.4 L671.0 1339.2 L673.7 1338.9 L676.4 1338.7 L679.1 1338.5 L681.8 1338.3 L684.5 1338.1 L687.2 1337.9 L689.9 1337.7 L692.7 1337.5 L695.5 1337.4 L698.5 1337.2 L701.5 1337.0 L704.6 1336.8 L707.7 1336.6 L710.8 1336.4 L713.8 1336.3 L716.7 1336.1 L719.4 1335.9 L722.0 1335.8 L724.4 1335.6 L726.6 1335.4 L728.5 1335.3 L730.1 1335.2 L731.5 1335.1 L732.8 1335.0 L733.9 1334.9 L734.9 1334.8 L735.9 1334.7 L736.8 1334.6 L737.8 1334.5 L738.9 1334.4 L740.1 1334.2 L741.4 1334.0 L742.9 1333.8 L744.3 1333.5 L745.7 1333.3 L747.1 1333.0 L748.6 1332.7 L750.1 1332.4 L751.6 1332.1 L753.3 1331.8 L755.1 1331.4 L756.9 1331.0 L758.9 1330.5 L761.1 1330.0 L763.4 1329.5 L765.9 1328.9 L768.5 1328.3 L771.3 1327.6 L774.2 1326.9 L777.1 1326.2 L780.1 1325.4 L783.1 1324.7 L786.1 1324.0 L789.1 1323.3 L792.0 1322.6 L794.8 1322.0 L797.5 1321.4 L800.2 1320.9 L803.0 1320.4 L805.7 1319.9 L808.4 1319.5 L811.1 1319.0 L813.9 1318.5 L816.6 1318.0 L819.4 1317.5 L822.1 1316.9 L824.9 1316.3 L827.8 1315.6 L830.6 1314.8 L833.4 1314.0 L836.3 1313.2 L839.2 1312.3 L842.1 1311.4 L844.9 1310.4 L847.8 1309.5 L850.7 1308.5 L853.5 1307.6 L856.4 1306.7 L859.2 1305.7 L862.0 1304.9 L864.9 1304.0 L867.8 1303.1 L870.8 1302.2 L873.8 1301.3 L876.8 1300.4 L879.8 1299.5 L882.7 1298.7 L885.6 1297.8 L888.3 1297.0 L890.9 1296.2 L893.4 1295.5 L895.7 1294.8 L897.9 1294.1 L899.9 1293.5 L901.7 1293.0 L903.5 1292.4 L905.1 1291.9 L906.7 1291.5 L908.3 1291.0 L909.7 1290.5 L911.2 1290.0 L912.6 1289.5 L914.0 1289.0 L915.4 1288.4 L916.8 1287.8 L918.2 1287.1 L919.6 1286.4 L920.9 1285.7 L922.2 1285.0 L923.4 1284.3 L924.5 1283.6 L925.6 1282.9 L926.7 1282.3 L927.7 1281.7 L928.6 1281.2 L929.4 1280.8 L930.2 1280.4 L931.0 1280.1 L931.7 1279.8 L932.4 1279.5 L933.0 1279.3 L933.6 1279.1 L934.1 1278.9 L934.6 1278.8 L935.1 1278.6 L935.5 1278.5 L935.9 1278.4 L936.3 1278.3 L935.1 1274.7 L934.8 1274.8 L934.5 1275.0 L934.1 1275.1 L933.6 1275.2 L933.0 1275.4 L932.4 1275.6 L931.8 1275.8 L931.1 1276.0 L930.3 1276.3 L929.5 1276.6 L928.7 1277.0 L927.8 1277.4 L926.8 1277.9 L925.8 1278.5 L924.8 1279.1 L923.7 1279.7 L922.6 1280.4 L921.5 1281.1 L920.3 1281.8 L919.1 1282.5 L917.9 1283.1 L916.6 1283.8 L915.3 1284.4 L914.0 1285.0 L912.6 1285.5 L911.3 1286.0 L909.9 1286.5 L908.6 1287.0 L907.1 1287.5 L905.6 1287.9 L904.1 1288.4 L902.4 1288.9 L900.7 1289.4 L898.8 1290.0 L896.8 1290.6 L894.7 1291.2 L892.4 1291.9 L889.9 1292.7 L887.3 1293.5 L884.5 1294.3 L881.7 1295.1 L878.7 1296.0 L875.8 1296.9 L872.8 1297.8 L869.8 1298.7 L866.8 1299.6 L863.8 1300.5 L861.0 1301.3 L858.1 1302.2 L855.2 1303.1 L852.4 1304.1 L849.5 1305.0 L846.6 1306.0 L843.8 1306.9 L840.9 1307.8 L838.1 1308.8 L835.2 1309.6 L832.4 1310.5 L829.6 1311.3 L826.8 1312.0 L824.1 1312.7 L821.4 1313.3 L818.6 1313.9 L815.9 1314.4 L813.2 1314.9 L810.5 1315.4 L807.8 1315.9 L805.1 1316.4 L802.3 1316.9 L799.6 1317.4 L796.8 1318.0 L794.0 1318.6 L791.2 1319.3 L788.3 1320.0 L785.3 1320.7 L782.3 1321.4 L779.3 1322.2 L776.3 1322.9 L773.4 1323.7 L770.5 1324.4 L767.8 1325.1 L765.1 1325.8 L762.6 1326.4 L760.3 1327.0 L758.2 1327.5 L756.2 1327.9 L754.4 1328.3 L752.6 1328.7 L751.0 1329.1 L749.5 1329.4 L748.0 1329.7 L746.5 1330.0 L745.1 1330.3 L743.7 1330.5 L742.4 1330.8 L741.0 1331.0 L739.6 1331.2 L738.5 1331.4 L737.4 1331.6 L736.5 1331.7 L735.5 1331.8 L734.6 1331.9 L733.6 1332.0 L732.5 1332.1 L731.3 1332.2 L729.9 1332.3 L728.3 1332.4 L726.4 1332.6 L724.2 1332.7 L721.9 1332.9 L719.3 1333.0 L716.5 1333.2 L713.6 1333.4 L710.6 1333.5 L707.5 1333.7 L704.4 1333.9 L701.3 1334.1 L698.3 1334.3 L695.3 1334.5 L692.5 1334.7 L689.7 1334.8 L687.0 1335.0 L684.3 1335.2 L681.6 1335.4 L678.9 1335.6 L676.2 1335.8 L673.5 1336.1 L670.8 1336.3 L668.1 1336.5 L665.4 1336.7 L662.6 1336.9 L659.9 1337.2 L657.1 1337.4 L654.3 1337.6 L651.5 1337.9 L648.7 1338.1 L645.9 1338.4 L643.0 1338.6 L640.2 1338.9 L637.3 1339.2 L634.5 1339.4 L631.7 1339.7 L628.8 1339.9 L626.0 1340.2 L623.1 1340.4 L620.3 1340.6 L617.5 1340.8 L614.6 1341.0 L611.7 1341.2 L608.9 1341.4 L606.0 1341.6 L603.2 1341.9 L600.3 1342.1 L597.5 1342.3 L594.6 1342.5 L591.8 1342.8 L588.9 1343.0 L586.1 1343.3 L583.3 1343.6 L580.5 1343.8 L577.7 1344.1 L574.9 1344.4 L572.0 1344.7 L569.2 1345.0 L566.4 1345.3 L563.7 1345.5 L560.9 1345.8 L558.1 1346.1 L555.3 1346.3 L552.5 1346.5 L549.7 1346.7 L547.0 1346.9 L544.2 1347.1 L541.4 1347.3 L538.7 1347.5 L535.9 1347.7 L533.1 1347.9 L530.3 1348.1 L527.5 1348.3 L524.7 1348.6 L521.8 1348.8 L518.9 1349.1 L515.9 1349.3 L512.9 1349.6 L509.8 1349.9 L506.8 1350.2 L503.9 1350.5 L501.0 1350.8 L498.1 1351.1 L495.4 1351.4 L492.9 1351.6 L490.5 1351.9 L488.2 1352.1 L486.0 1352.3 L483.9 1352.5 L481.9 1352.8 L480.0 1353.0 L478.2 1353.2 L476.5 1353.4 L474.8 1353.5 L473.2 1353.7 L471.7 1353.9 L470.3 1354.0 L468.9 1354.2 L467.6 1354.3 L466.6 1354.4 L465.8 1354.5 L465.1 1354.5 L464.5 1354.6 L464.0 1354.6 L463.4 1354.7 L462.6 1354.7 L461.8 1354.8 L460.7 1354.8 L459.3 1354.8 L457.6 1354.9 L455.6 1354.9 L453.4 1354.9 L451.1 1354.9 L448.6 1354.9 L445.9 1354.9 L443.1 1354.9 L440.1 1354.9 L437.0 1354.9 L433.8 1354.9 L430.5 1354.9 L427.0 1354.9 L423.5 1354.9 L419.6 1354.8 L415.3 1354.8 L410.6 1354.8 L405.7 1354.8 L400.6 1354.8 L395.5 1354.8 L390.6 1354.8 L385.9 1354.9 L381.5 1354.8 L377.6 1354.9 L374.4 1354.8 L371.8 1354.8Z" fill="#000" stroke="#000" stroke-width="0.6" stroke-linejoin="round"/>
<circle cx="935.2" cy="1276.7" r="2.3" fill="#000"/>
<rect x="288.3" y="1265.3" width="674.3" height="114.6" fill="none" stroke="#262626" stroke-width="3.4"/>
<line x1="288.3" x2="288.3" y1="1379.9" y2="1384.4" stroke="#555" stroke-width="1"/>
<text x="288.3" y="1408" class="b165" text-anchor="middle">0</text>
<line x1="457.4" x2="457.4" y1="1379.9" y2="1384.4" stroke="#555" stroke-width="1"/>
<text x="457.4" y="1408" class="b165" text-anchor="middle">100</text>
<line x1="625.8" x2="625.8" y1="1379.9" y2="1384.4" stroke="#555" stroke-width="1"/>
<text x="625.8" y="1408" class="b165" text-anchor="middle">200</text>
<line x1="793.7" x2="793.7" y1="1379.9" y2="1384.4" stroke="#555" stroke-width="1"/>
<text x="793.7" y="1408" class="b165" text-anchor="middle">300</text>
<line x1="962.6" x2="962.6" y1="1379.9" y2="1384.4" stroke="#555" stroke-width="1"/>
<text x="962.6" y="1408" class="b165" text-anchor="middle">400</text>
<text x="277.7" y="1269.5" class="b138" text-anchor="end">12</text>
<line x1="284.3" x2="288.3" y1="1265.3" y2="1265.3" stroke="#444" stroke-width="1"/>
<text x="277.7" y="1292.4" class="b138" text-anchor="end">10</text>
<line x1="284.3" x2="288.3" y1="1288.2" y2="1288.2" stroke="#444" stroke-width="1"/>
<text x="277.7" y="1315.3" class="b138" text-anchor="end">8</text>
<line x1="284.3" x2="288.3" y1="1311.1" y2="1311.1" stroke="#444" stroke-width="1"/>
<text x="277.7" y="1338.3" class="b138" text-anchor="end">6</text>
<line x1="284.3" x2="288.3" y1="1334.1" y2="1334.1" stroke="#444" stroke-width="1"/>
<text x="277.7" y="1361.2" class="b138" text-anchor="end">4</text>
<line x1="284.3" x2="288.3" y1="1357.0" y2="1357.0" stroke="#444" stroke-width="1"/>
<text x="277.7" y="1384.1" class="b138" text-anchor="end">2</text>
<line x1="284.3" x2="288.3" y1="1379.9" y2="1379.9" stroke="#444" stroke-width="1"/>
<line x1="957.6" x2="967.6" y1="1379.9" y2="1379.9" stroke="#8c8c8c" stroke-width="1"/>
<text x="978" y="1384.2" class="b145">0</text>
<line x1="957.6" x2="967.6" y1="1348.6" y2="1348.6" stroke="#8c8c8c" stroke-width="1"/>
<text x="978" y="1352.9" class="b145">1</text>
<line x1="957.6" x2="967.6" y1="1317.3" y2="1317.3" stroke="#8c8c8c" stroke-width="1"/>
<text x="978" y="1321.6" class="b145">2</text>
<line x1="957.6" x2="967.6" y1="1286.0" y2="1286.0" stroke="#8c8c8c" stroke-width="1"/>
<text x="978" y="1290.3" class="b145">3</text>
<text transform="translate(243.3,1321.7) rotate(-90)" class="b168" text-anchor="middle">NPSHr [FEET]</text>
<text transform="translate(1010.8,1324) rotate(-90)" class="b143" text-anchor="middle">NPSHr [METERS]</text>
<text x="1006.8" y="1422.7" class="b168" text-anchor="end">Q [U.S. GPM]</text>
</g>
</svg>
</body></html>
